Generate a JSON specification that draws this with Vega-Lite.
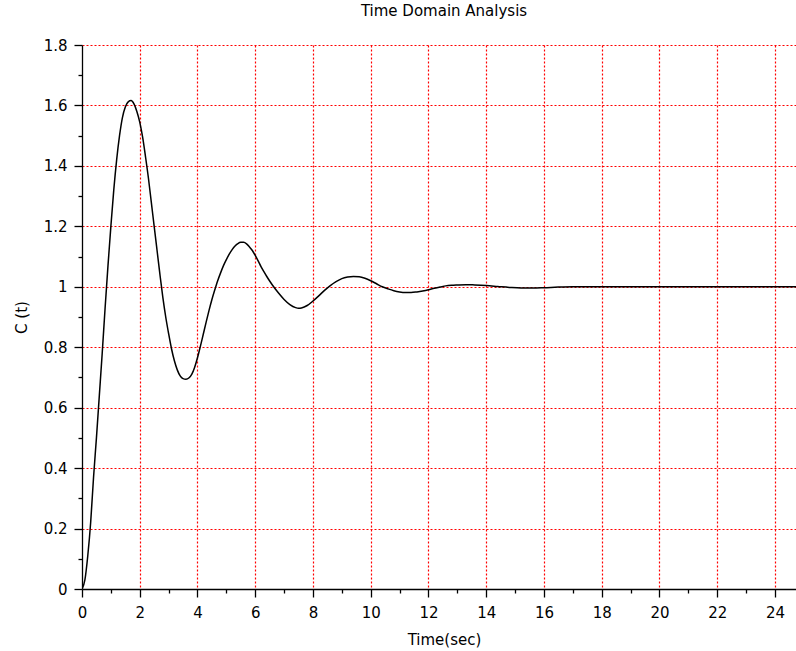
{
  "$schema": "https://vega.github.io/schema/vega-lite/v6.json",
  "autosize": "none",
  "width": 714,
  "height": 544,
  "padding": {"left": 82, "top": 45, "right": 0, "bottom": 62},
  "background": "white",
  "config": {"font": "DejaVu Sans", "view": {"stroke": null}},
  "title": {"text": "Time Domain Analysis", "fontSize": 15, "fontWeight": "normal", "color": "black", "anchor": "middle", "offset": 19, "dx": 5},
  "data": {"values": [
    {"t":0,"c":0},{"t":0.1,"c":0.03},{"t":0.2,"c":0.11},{"t":0.3,"c":0.22},{"t":0.4,"c":0.37},{"t":0.5,"c":0.5},{"t":0.6,"c":0.64},{"t":0.7,"c":0.78},{"t":0.8,"c":0.93},{"t":0.9,"c":1.07},
    {"t":1.0,"c":1.2},{"t":1.1,"c":1.32},{"t":1.2,"c":1.42},{"t":1.3,"c":1.5},{"t":1.4,"c":1.56},{"t":1.5,"c":1.595},{"t":1.6,"c":1.612},{"t":1.7,"c":1.616},{"t":1.8,"c":1.605},{"t":1.9,"c":1.58},
    {"t":2.0,"c":1.545},{"t":2.1,"c":1.495},{"t":2.2,"c":1.43},{"t":2.3,"c":1.36},{"t":2.4,"c":1.28},{"t":2.5,"c":1.2},{"t":2.6,"c":1.12},{"t":2.7,"c":1.04},{"t":2.8,"c":0.965},{"t":2.9,"c":0.9},
    {"t":3.0,"c":0.845},{"t":3.1,"c":0.795},{"t":3.2,"c":0.755},{"t":3.3,"c":0.725},{"t":3.4,"c":0.705},{"t":3.5,"c":0.696},{"t":3.6,"c":0.694},{"t":3.7,"c":0.698},{"t":3.8,"c":0.71},{"t":3.9,"c":0.733},
    {"t":4.0,"c":0.765},{"t":4.1,"c":0.803},{"t":4.2,"c":0.843},{"t":4.3,"c":0.883},{"t":4.4,"c":0.922},{"t":4.5,"c":0.958},{"t":4.6,"c":0.99},{"t":4.7,"c":1.02},{"t":4.8,"c":1.046},{"t":4.9,"c":1.07},
    {"t":5.0,"c":1.09},{"t":5.1,"c":1.108},{"t":5.2,"c":1.123},{"t":5.3,"c":1.135},{"t":5.4,"c":1.143},{"t":5.5,"c":1.147},{"t":5.6,"c":1.147},{"t":5.7,"c":1.142},{"t":5.8,"c":1.132},{"t":5.9,"c":1.12},
    {"t":6.0,"c":1.104},{"t":6.1,"c":1.086},{"t":6.2,"c":1.067},{"t":6.3,"c":1.05},{"t":6.4,"c":1.034},{"t":6.5,"c":1.019},{"t":6.6,"c":1.005},{"t":6.8,"c":0.98},{"t":7.0,"c":0.958},{"t":7.2,"c":0.941},
    {"t":7.4,"c":0.931},{"t":7.5,"c":0.929},{"t":7.6,"c":0.93},{"t":7.8,"c":0.938},{"t":8.0,"c":0.953},{"t":8.2,"c":0.97},{"t":8.4,"c":0.988},{"t":8.6,"c":1.004},{"t":8.8,"c":1.017},{"t":9.0,"c":1.027},
    {"t":9.2,"c":1.032},{"t":9.4,"c":1.034},{"t":9.6,"c":1.033},{"t":9.8,"c":1.028},{"t":10.0,"c":1.02},{"t":10.2,"c":1.01},{"t":10.4,"c":1.0},{"t":10.6,"c":0.993},{"t":10.8,"c":0.987},{"t":11.0,"c":0.983},
    {"t":11.2,"c":0.981},{"t":11.4,"c":0.981},{"t":11.6,"c":0.983},{"t":11.8,"c":0.986},{"t":12.0,"c":0.99},{"t":12.2,"c":0.995},{"t":12.4,"c":0.999},{"t":12.6,"c":1.003},{"t":12.8,"c":1.005},{"t":13.0,"c":1.006},
    {"t":13.3,"c":1.007},{"t":13.6,"c":1.006},{"t":14.0,"c":1.004},{"t":14.4,"c":1.001},{"t":14.8,"c":0.998},{"t":15.2,"c":0.996},{"t":15.6,"c":0.996},{"t":16.0,"c":0.997},{"t":16.5,"c":0.999},{"t":17.0,"c":1.0},
    {"t":18.0,"c":1.0},{"t":19.0,"c":1.0},{"t":20.0,"c":1.0},{"t":22.0,"c":1.0},{"t":24.0,"c":1.0},{"t":25.0,"c":1.0}
  ]},
  "mark": {"type": "line", "color": "black", "strokeWidth": 1.5, "clip": true, "interpolate": "monotone"},
  "encoding": {
    "x": {
      "field": "t", "type": "quantitative",
      "scale": {"domain": [0, 24.73], "nice": false, "zero": false},
      "axis": {
        "title": "Time(sec)", "titleFontSize": 15, "titleFontWeight": "normal", "titleColor": "black", "titlePadding": 12, "titleX": 362,
        "values": [0,1,2,3,4,5,6,7,8,9,10,11,12,13,14,15,16,17,18,19,20,21,22,23,24],
        "labelExpr": "datum.value % 2 == 0 ? datum.label : ''",
        "labelFontSize": 15, "labelColor": "black", "labelPadding": 8, "labelFlush": false, "labelOverlap": false,
        "domainColor": "black", "domainWidth": 1.3,
        "tickColor": "black", "tickWidth": 1.3,
        "tickSize": {"condition": {"test": "datum.value % 2 == 1", "value": 4}, "value": 8},
        "grid": true, "gridColor": "red", "gridDash": [2, 2], "gridWidth": 1.2,
        "gridOpacity": {"condition": {"test": "datum.value % 2 == 1 || datum.value == 0", "value": 0}, "value": 1}
      }
    },
    "y": {
      "field": "c", "type": "quantitative",
      "scale": {"domain": [0, 1.8], "nice": false},
      "axis": {
        "title": "C (t)", "titleFontSize": 15, "titleFontWeight": "normal", "titleColor": "black", "titlePadding": 14,
        "values": [0,0.1,0.2,0.3,0.4,0.5,0.6,0.7,0.8,0.9,1,1.1,1.2,1.3,1.4,1.5,1.6,1.7,1.8],
        "format": "~g",
        "labelExpr": "round(datum.value*10) % 2 == 0 ? datum.label : ''",
        "labelFontSize": 15, "labelColor": "black", "labelPadding": 7, "labelFlush": false, "labelOverlap": false,
        "domainColor": "black", "domainWidth": 1.3,
        "tickColor": "black", "tickWidth": 1.3,
        "tickSize": {"condition": {"test": "round(datum.value*10) % 2 == 1", "value": 4}, "value": 8},
        "grid": true, "gridColor": "red", "gridDash": [2, 2], "gridWidth": 1.2,
        "gridOpacity": {"condition": {"test": "round(datum.value*10) % 2 == 1 || datum.value == 0", "value": 0}, "value": 1}
      }
    }
  }
}
